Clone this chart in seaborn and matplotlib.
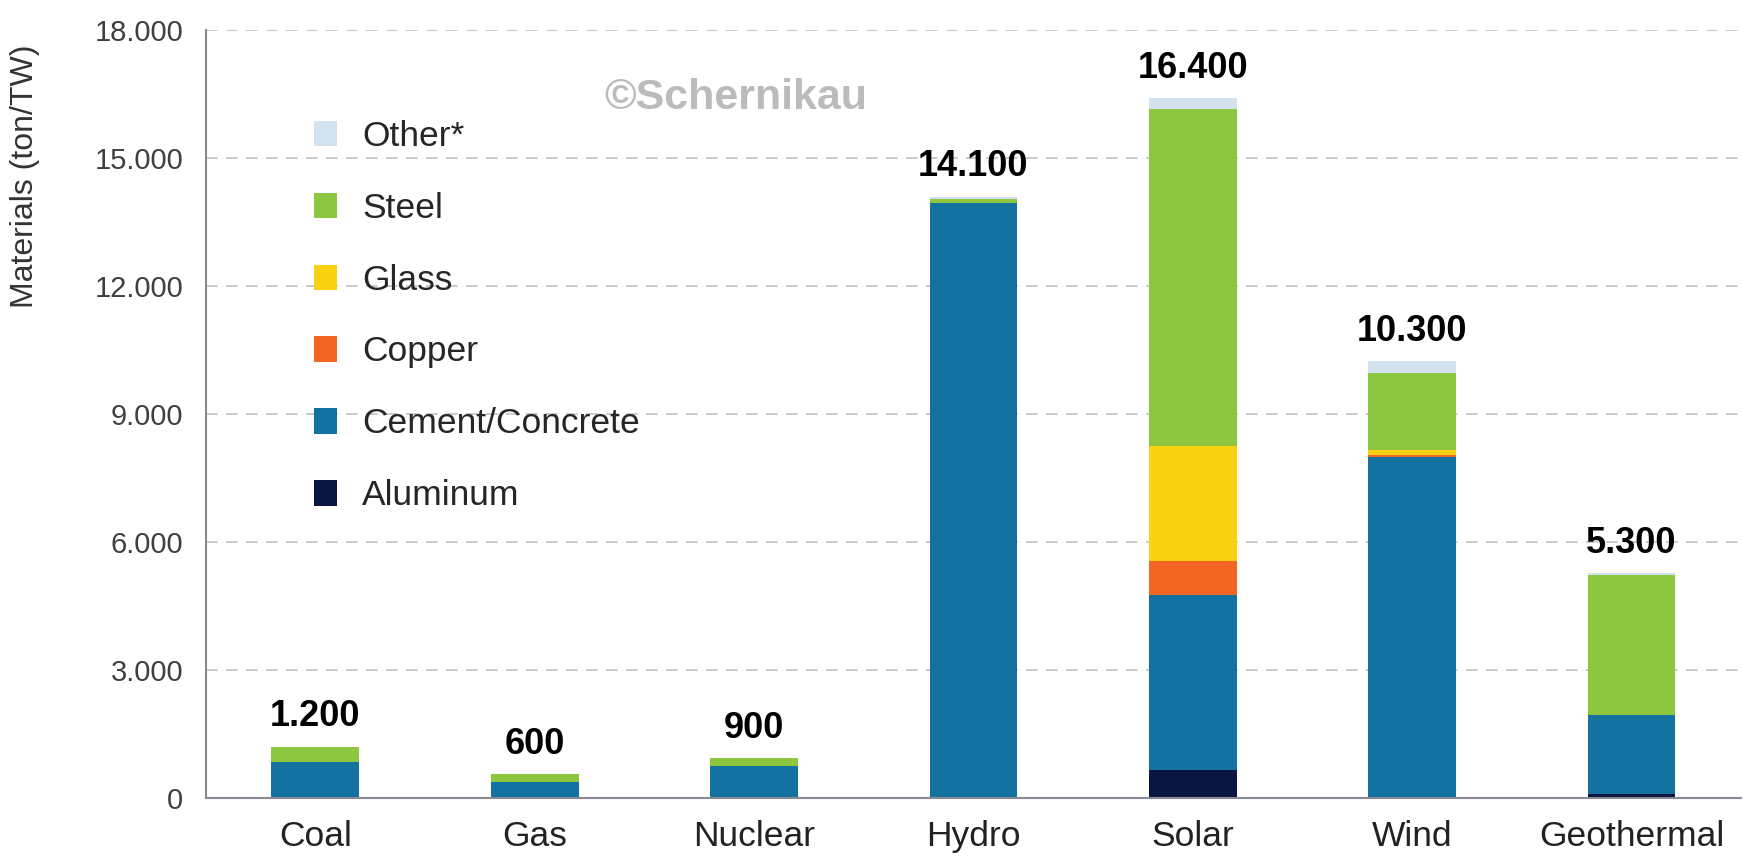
import numpy as np
import matplotlib
matplotlib.use("Agg")
import matplotlib.pyplot as plt
import seaborn as sns
from matplotlib.ticker import FuncFormatter, FixedLocator

# --- DATA ---
sources = ['Coal', 'Gas', 'Nuclear', 'Hydro', 'Solar', 'Wind', 'Geothermal']
totals = [1200, 600, 900, 14100, 16400, 10300, 5300]

aluminum = [0, 0, 0, 0, 650, 0, 100]
cement = [850, 380, 750, 13950, 4100, 8000, 1850]
copper = [0, 0, 0, 0, 800, 50, 0]
glass = [0, 0, 0, 0, 2700, 120, 0]
steel = [350, 180, 180, 100, 7900, 1800, 3270]
other = [0, 0, 0, 50, 250, 270, 50]

materials = ['Aluminum', 'Cement/Concrete', 'Copper', 'Glass', 'Steel', 'Other*']
layers = [aluminum, cement, copper, glass, steel, other]
colors = ['#0B1541', '#1472A1', '#F26522', '#FAD10F', '#8DC63F', '#D3E2EF']

sns.set_style('white')
plt.rcParams['font.family'] = ['Liberation Sans', 'DejaVu Sans']

fig, ax = plt.subplots(figsize=(17.43, 8.61), dpi=100)
fig.subplots_adjust(left=0.118, right=0.999, top=0.965, bottom=0.073)

bottom = np.zeros(len(sources))
for name, vals, c in zip(materials, layers, colors):
    sns.barplot(x=sources, y=vals, bottom=bottom, color=c, width=0.4,
                label=name, ax=ax, saturation=1, linewidth=0)
    bottom += np.array(vals)

# value labels on top
for i, t in enumerate(totals):
    ax.annotate(f'{t:,}'.replace(',', '.'), xy=(i, bottom[i]), xytext=(0, 9),
                textcoords='offset points', ha='center', va='bottom',
                fontsize=26, fontweight='bold', color='black')

ax.set_ylim(0, 18000)
ax.set_xlim(-0.5, 6.5)
ax.set_yticks(np.arange(0, 18001, 3000))
ax.yaxis.set_major_formatter(FuncFormatter(lambda v, p: f'{int(v):,}'.replace(',', '.')))
for y in range(3000, 18001, 3000):
    ax.axhline(y, color='#C4C0C0', linestyle=(0, (7, 5)), linewidth=1.2, zorder=0)

ax.set_ylabel('Materials (ton/TW)', fontsize=23, color='#333333')
ax.yaxis.set_label_coords(-0.108, 0.81)

for s in ['top', 'right']:
    ax.spines[s].set_visible(False)
for s in ['left', 'bottom']:
    ax.spines[s].set_color('#8A8A94')
    ax.spines[s].set_linewidth(1.5)

ax.tick_params(axis='y', labelsize=21, labelcolor='#404040', length=6,
               color='#8A8A94', direction='out', pad=10)
ax.tick_params(axis='x', labelsize=25.5, labelcolor='#222222', length=0, pad=16)
ax.xaxis.set_minor_locator(FixedLocator(np.arange(0.5, 6, 1)))
ax.tick_params(axis='x', which='minor', length=12, color='#8A8A94', width=1.5,
               direction='out')

# legend, reversed to match stack order
handles, labels = ax.get_legend_handles_labels()
leg = ax.legend(handles[::-1], labels[::-1], loc='upper left',
                bbox_to_anchor=(0.05, 0.925), frameon=False, fontsize=25.5,
                handlelength=0.65, handleheight=0.72, labelspacing=1.1,
                handletextpad=0.7)

ax.text(0.345, 0.911, '©Schernikau', transform=ax.transAxes, fontsize=31,
        fontweight='bold', color='#BBBBBB', ha='center', va='center')

plt.savefig('out.png', dpi=100)
plt.close()
